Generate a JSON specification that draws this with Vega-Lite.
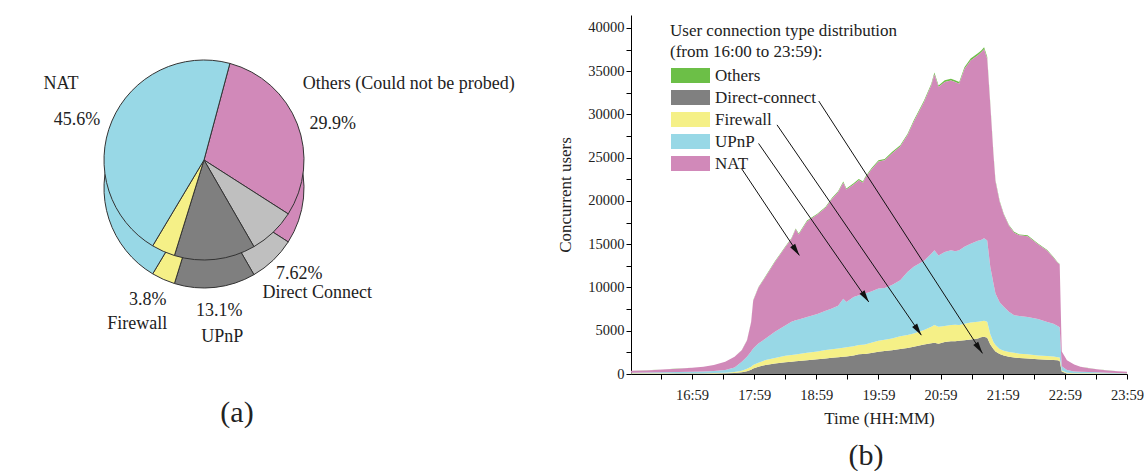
{
  "$schema": "https://vega.github.io/schema/vega-lite/v6.json",
  "padding": {"left": 0, "top": 15, "right": 0, "bottom": 0},
  "bounds": "flush",
  "spacing": 223,
  "resolve": {"scale": {"color": "independent", "x": "independent", "y": "independent", "theta": "independent"}, "legend": {"color": "independent"}},
  "config": {
    "font": "Liberation Serif",
    "view": {"stroke": null},
    "axis": {"grid": false, "domainColor": "#000", "tickColor": "#000", "tickSize": 5, "labelColor": "#222", "titleColor": "#222",
      "labelFont": "Liberation Serif", "titleFont": "Liberation Serif", "labelFontSize": 14.5, "titleFontSize": 17, "titleFontWeight": "normal"},
    "legend": {"labelFont": "Liberation Serif", "titleFont": "Liberation Serif"},
    "title": {"font": "Liberation Serif", "fontWeight": "normal", "color": "#222", "fontSize": 30},
    "text": {"font": "Liberation Serif"}
  },
  "hconcat": [
    {
      "width": 408,
      "height": 290,
      "title": {"text": "(a)", "orient": "bottom", "dx": 33, "offset": 52},
      "data": {"values": [
        {"key": "Others", "name": "Others (Could not be probed)", "pct": 29.9, "txt": "29.9%"},
        {"key": "Direct Connect", "name": "Direct Connect", "pct": 7.62, "txt": "7.62%"},
        {"key": "UPnP", "name": "UPnP", "pct": 13.1, "txt": "13.1%"},
        {"key": "Firewall", "name": "Firewall", "pct": 3.8, "txt": "3.8%"},
        {"key": "NAT", "name": "NAT", "pct": 45.6, "txt": "45.6%"}
      ]},
      "transform": [
        {"window": [{"op": "row_number", "as": "k"}]},
        {"stack": "pct", "groupby": [], "sort": [{"field": "k"}], "as": ["a0", "a1"]},
        {"calculate": "(datum.a0 + datum.a1) / 2", "as": "mid"}
      ],
      "layer": [
        {
          "mark": {"type": "arc", "radius": 100, "yOffset": 28, "stroke": "#333", "strokeWidth": 1},
          "encoding": {
            "theta": {"field": "a0", "type": "quantitative", "stack": null, "scale": {"domain": [0, 100.02], "range": [0.2618, 6.5450]}},
            "theta2": {"field": "a1"},
            "color": {"field": "key", "type": "nominal", "legend": null,
              "scale": {"domain": ["Others", "Direct Connect", "UPnP", "Firewall", "NAT"], "range": ["#d189b9", "#bfbfbf", "#7f7f7f", "#f5f087", "#98d8e6"]}}
          }
        },
        {
          "mark": {"type": "arc", "radius": 100, "stroke": "#333", "strokeWidth": 1},
          "encoding": {
            "theta": {"field": "a0", "type": "quantitative", "stack": null},
            "theta2": {"field": "a1"},
            "color": {"field": "key", "type": "nominal", "legend": null}
          }
        },
        {
          "mark": {"type": "text", "radius": 138, "yOffset": 14, "fontSize": 18, "color": "#222"},
          "encoding": {
            "theta": {"field": "mid", "type": "quantitative", "stack": null},
            "text": {"field": "txt"}
          }
        },
        {
          "transform": [{"filter": {"field": "key", "oneOf": ["Direct Connect", "UPnP", "Firewall"]}}],
          "mark": {"type": "text", "radius": 164, "yOffset": 14, "fontSize": 18, "color": "#222"},
          "encoding": {
            "theta": {"field": "mid", "type": "quantitative", "stack": null},
            "text": {"field": "name"}
          }
        },
        {
          "transform": [{"filter": {"field": "key", "equal": "NAT"}}],
          "mark": {"type": "text", "radius": 138, "yOffset": 14, "dx": -16, "dy": -36, "fontSize": 18, "color": "#222"},
          "encoding": {
            "theta": {"field": "mid", "type": "quantitative", "stack": null},
            "text": {"field": "name"}
          }
        },
        {
          "transform": [{"filter": {"field": "key", "equal": "Others"}}],
          "mark": {"type": "text", "radius": 138, "yOffset": 14, "dx": -30, "dy": -40, "align": "left", "fontSize": 18, "color": "#222"},
          "encoding": {
            "theta": {"field": "mid", "type": "quantitative", "stack": null},
            "text": {"field": "name"}
          }
        }
      ]
    },
    {
      "width": 496,
      "height": 359,
      "title": {"text": "(b)", "orient": "bottom", "dx": -13, "offset": 14},
      "layer": [
        {
          "data": {"values": [
            {"m": 0, "Direct-connect": 40, "Firewall": 40, "UPnP": 70, "NAT": 228, "Others": 2},
            {"m": 15, "Direct-connect": 40, "Firewall": 40, "UPnP": 90, "NAT": 248, "Others": 2},
            {"m": 30, "Direct-connect": 40, "Firewall": 45, "UPnP": 105, "NAT": 328, "Others": 3},
            {"m": 45, "Direct-connect": 45, "Firewall": 45, "UPnP": 130, "NAT": 398, "Others": 4},
            {"m": 59, "Direct-connect": 50, "Firewall": 45, "UPnP": 165, "NAT": 467, "Others": 4},
            {"m": 70, "Direct-connect": 55, "Firewall": 45, "UPnP": 200, "NAT": 547, "Others": 5},
            {"m": 80, "Direct-connect": 60, "Firewall": 50, "UPnP": 240, "NAT": 696, "Others": 6},
            {"m": 91, "Direct-connect": 80, "Firewall": 70, "UPnP": 310, "NAT": 954, "Others": 8},
            {"m": 100, "Direct-connect": 120, "Firewall": 110, "UPnP": 520, "NAT": 1242, "Others": 12},
            {"m": 107, "Direct-connect": 200, "Firewall": 180, "UPnP": 1040, "NAT": 1329, "Others": 16},
            {"m": 112, "Direct-connect": 320, "Firewall": 280, "UPnP": 1400, "NAT": 1884, "Others": 23},
            {"m": 116, "Direct-connect": 500, "Firewall": 350, "UPnP": 1750, "NAT": 3376, "Others": 35},
            {"m": 118, "Direct-connect": 650, "Firewall": 390, "UPnP": 1920, "NAT": 5506, "Others": 50},
            {"m": 123, "Direct-connect": 850, "Firewall": 450, "UPnP": 2230, "NAT": 6430, "Others": 59},
            {"m": 130, "Direct-connect": 1040, "Firewall": 570, "UPnP": 2490, "NAT": 7155, "Others": 66},
            {"m": 139, "Direct-connect": 1200, "Firewall": 650, "UPnP": 3030, "NAT": 8068, "Others": 76},
            {"m": 149, "Direct-connect": 1350, "Firewall": 750, "UPnP": 3500, "NAT": 9041, "Others": 86},
            {"m": 155, "Direct-connect": 1420, "Firewall": 770, "UPnP": 3840, "NAT": 9607, "Others": 92},
            {"m": 159, "Direct-connect": 1480, "Firewall": 770, "UPnP": 3950, "NAT": 10533, "Others": 99},
            {"m": 162, "Direct-connect": 1500, "Firewall": 800, "UPnP": 4000, "NAT": 9835, "Others": 95},
            {"m": 170, "Direct-connect": 1600, "Firewall": 850, "UPnP": 4150, "NAT": 11029, "Others": 104},
            {"m": 180, "Direct-connect": 1700, "Firewall": 900, "UPnP": 4350, "NAT": 11476, "Others": 109},
            {"m": 188, "Direct-connect": 1800, "Firewall": 960, "UPnP": 4540, "NAT": 11923, "Others": 114},
            {"m": 194, "Direct-connect": 1880, "Firewall": 970, "UPnP": 4710, "NAT": 12659, "Others": 119},
            {"m": 200, "Direct-connect": 1950, "Firewall": 1000, "UPnP": 4950, "NAT": 13116, "Others": 124},
            {"m": 205, "Direct-connect": 2000, "Firewall": 1030, "UPnP": 5670, "NAT": 13411, "Others": 131},
            {"m": 208, "Direct-connect": 2030, "Firewall": 1050, "UPnP": 5250, "NAT": 12984, "Others": 126},
            {"m": 215, "Direct-connect": 2150, "Firewall": 1050, "UPnP": 5700, "NAT": 13012, "Others": 129},
            {"m": 220, "Direct-connect": 2270, "Firewall": 1070, "UPnP": 5760, "NAT": 13310, "Others": 132},
            {"m": 224, "Direct-connect": 2300, "Firewall": 1080, "UPnP": 5820, "NAT": 12911, "Others": 131},
            {"m": 226, "Direct-connect": 2320, "Firewall": 1080, "UPnP": 5900, "NAT": 13309, "Others": 134},
            {"m": 232, "Direct-connect": 2430, "Firewall": 1170, "UPnP": 5950, "NAT": 14055, "Others": 139},
            {"m": 239, "Direct-connect": 2570, "Firewall": 1270, "UPnP": 6030, "NAT": 14681, "Others": 145},
            {"m": 245, "Direct-connect": 2650, "Firewall": 1300, "UPnP": 6000, "NAT": 14751, "Others": 146},
            {"m": 252, "Direct-connect": 2750, "Firewall": 1350, "UPnP": 6200, "NAT": 15198, "Others": 151},
            {"m": 260, "Direct-connect": 2900, "Firewall": 1450, "UPnP": 6480, "NAT": 15464, "Others": 155},
            {"m": 267, "Direct-connect": 3020, "Firewall": 1480, "UPnP": 7300, "NAT": 15789, "Others": 163},
            {"m": 273, "Direct-connect": 3150, "Firewall": 1530, "UPnP": 7720, "NAT": 16743, "Others": 172},
            {"m": 283, "Direct-connect": 3400, "Firewall": 1700, "UPnP": 8000, "NAT": 18334, "Others": 186},
            {"m": 290, "Direct-connect": 3550, "Firewall": 1900, "UPnP": 8450, "NAT": 19466, "Others": 197},
            {"m": 293, "Direct-connect": 3610, "Firewall": 2040, "UPnP": 8650, "NAT": 20361, "Others": 205},
            {"m": 297, "Direct-connect": 3500, "Firewall": 1950, "UPnP": 8250, "NAT": 19467, "Others": 196},
            {"m": 303, "Direct-connect": 3700, "Firewall": 1850, "UPnP": 8550, "NAT": 19664, "Others": 199},
            {"m": 309, "Direct-connect": 3800, "Firewall": 1850, "UPnP": 8650, "NAT": 19624, "Others": 200},
            {"m": 313, "Direct-connect": 3800, "Firewall": 1900, "UPnP": 8500, "NAT": 19564, "Others": 199},
            {"m": 317, "Direct-connect": 3840, "Firewall": 1810, "UPnP": 8650, "NAT": 19265, "Others": 198},
            {"m": 322, "Direct-connect": 3900, "Firewall": 1900, "UPnP": 8900, "NAT": 20558, "Others": 208},
            {"m": 328, "Direct-connect": 4000, "Firewall": 1950, "UPnP": 9100, "NAT": 21204, "Others": 214},
            {"m": 335, "Direct-connect": 4100, "Firewall": 1950, "UPnP": 9350, "NAT": 21452, "Others": 218},
            {"m": 338, "Direct-connect": 4250, "Firewall": 1850, "UPnP": 9400, "NAT": 21651, "Others": 219},
            {"m": 341, "Direct-connect": 4300, "Firewall": 1850, "UPnP": 9550, "NAT": 21849, "Others": 222},
            {"m": 344, "Direct-connect": 4200, "Firewall": 1850, "UPnP": 9390, "NAT": 21014, "Others": 215},
            {"m": 347, "Direct-connect": 3400, "Firewall": 1200, "UPnP": 7760, "NAT": 18715, "Others": 184},
            {"m": 350, "Direct-connect": 2900, "Firewall": 800, "UPnP": 6800, "NAT": 14898, "Others": 150},
            {"m": 352, "Direct-connect": 2600, "Firewall": 740, "UPnP": 5960, "NAT": 12961, "Others": 131},
            {"m": 356, "Direct-connect": 2300, "Firewall": 600, "UPnP": 5400, "NAT": 11620, "Others": 118},
            {"m": 360, "Direct-connect": 2150, "Firewall": 550, "UPnP": 5060, "NAT": 10666, "Others": 109},
            {"m": 365, "Direct-connect": 2000, "Firewall": 550, "UPnP": 4650, "NAT": 9931, "Others": 101},
            {"m": 370, "Direct-connect": 1900, "Firewall": 550, "UPnP": 4350, "NAT": 9534, "Others": 96},
            {"m": 375, "Direct-connect": 1850, "Firewall": 500, "UPnP": 4350, "NAT": 9336, "Others": 95},
            {"m": 383, "Direct-connect": 1800, "Firewall": 470, "UPnP": 4330, "NAT": 9336, "Others": 94},
            {"m": 393, "Direct-connect": 1700, "Firewall": 450, "UPnP": 4200, "NAT": 8640, "Others": 89},
            {"m": 402, "Direct-connect": 1650, "Firewall": 430, "UPnP": 3920, "NAT": 8243, "Others": 84},
            {"m": 408, "Direct-connect": 1620, "Firewall": 410, "UPnP": 3770, "NAT": 7646, "Others": 79},
            {"m": 412, "Direct-connect": 1580, "Firewall": 370, "UPnP": 3600, "NAT": 7298, "Others": 76},
            {"m": 414, "Direct-connect": 1500, "Firewall": 400, "UPnP": 3500, "NAT": 7249, "Others": 75},
            {"m": 416, "Direct-connect": 280, "Firewall": 120, "UPnP": 500, "NAT": 1690, "Others": 15},
            {"m": 421, "Direct-connect": 60, "Firewall": 90, "UPnP": 310, "NAT": 1134, "Others": 9},
            {"m": 428, "Direct-connect": 40, "Firewall": 60, "UPnP": 200, "NAT": 796, "Others": 6},
            {"m": 434, "Direct-connect": 40, "Firewall": 50, "UPnP": 170, "NAT": 587, "Others": 5},
            {"m": 442, "Direct-connect": 35, "Firewall": 45, "UPnP": 140, "NAT": 457, "Others": 4},
            {"m": 450, "Direct-connect": 35, "Firewall": 40, "UPnP": 115, "NAT": 348, "Others": 3},
            {"m": 460, "Direct-connect": 30, "Firewall": 35, "UPnP": 85, "NAT": 268, "Others": 2},
            {"m": 470, "Direct-connect": 30, "Firewall": 30, "UPnP": 50, "NAT": 219, "Others": 2},
            {"m": 479, "Direct-connect": 25, "Firewall": 25, "UPnP": 30, "NAT": 189, "Others": 2}
          ]},
          "transform": [
            {"fold": ["Others", "Direct-connect", "Firewall", "UPnP", "NAT"], "as": ["key", "value"]},
            {"calculate": "indexof(['Direct-connect', 'Firewall', 'UPnP', 'NAT', 'Others'], datum.key)", "as": "k"}
          ],
          "mark": {"type": "area", "interpolate": "linear"},
          "encoding": {
            "x": {"field": "m", "type": "quantitative",
              "scale": {"domain": [0, 479], "nice": false, "zero": false},
              "axis": {"title": "Time (HH:MM)", "titlePadding": 9, "labelOverlap": false, "labelFlush": false, "tickCount": 100,
                "values": [29, 59, 89, 119, 149, 179, 209, 239, 269, 299, 329, 359, 389, 419, 449, 479],
                "labelExpr": "datum.value % 60 == 59 ? (16 + floor(datum.value / 60)) + ':59' : ''",
                "labelPadding": 9}},
            "y": {"field": "value", "type": "quantitative", "stack": "zero",
              "scale": {"domain": [0, 41500], "nice": false},
              "axis": {"title": "Concurrent users", "titlePadding": 13, "format": "d", "labelOverlap": false, "labelFlush": false, "tickCount": 100,
                "values": [0, 2500, 5000, 7500, 10000, 12500, 15000, 17500, 20000, 22500, 25000, 27500, 30000, 32500, 35000, 37500, 40000],
                "labelExpr": "datum.value % 5000 == 0 ? datum.label : ''",
                "labelPadding": 2}},
            "color": {"field": "key", "type": "nominal",
              "scale": {"domain": ["Others", "Direct-connect", "Firewall", "UPnP", "NAT"], "range": ["#6cbf47", "#808080", "#f5f087", "#98d8e6", "#d189b9"]},
              "legend": {"orient": "none", "legendX": 39, "legendY": 8,
                "title": ["User connection type distribution", "(from 16:00 to 23:59):"],
                "titleFontSize": 17, "titleFontWeight": "normal", "titleColor": "#222", "titleLineHeight": 21, "titlePadding": 6, "titleLimit": 400,
                "labelFontSize": 17, "labelColor": "#222", "labelOffset": 16, "labelLimit": 300,
                "symbolType": "M-2.6,-1H2.6V1H-2.6Z", "symbolSize": 225, "symbolStrokeWidth": 0, "symbolOpacity": 1, "symbolOffset": 12,
                "rowPadding": 4}},
            "order": {"field": "k", "type": "quantitative"}
          }
        },
        {
          "data": {"values": [
            {"m": 107, "v": 23700, "m2": 162.6, "v2": 13710},
            {"m": 123.2, "v": 26650, "m2": 229.6, "v2": 8330},
            {"m": 141, "v": 28800, "m2": 280.4, "v2": 4490},
            {"m": 181.3, "v": 31560, "m2": 339.4, "v2": 2385}
          ]},
          "layer": [
            {
              "mark": {"type": "rule", "color": "#111", "strokeWidth": 1},
              "encoding": {
                "x": {"field": "m", "type": "quantitative"},
                "y": {"field": "v", "type": "quantitative"},
                "x2": {"field": "m2"},
                "y2": {"field": "v2"}
              }
            },
            {
              "mark": {"type": "point", "shape": "M0,0L-0.25,-1L0.25,-1Z", "size": 576, "angle": 326, "filled": true, "color": "#111", "opacity": 1, "strokeWidth": 0},
              "encoding": {
                "x": {"field": "m2", "type": "quantitative"},
                "y": {"field": "v2", "type": "quantitative"}
              }
            }
          ]
        }
      ]
    }
  ]
}
